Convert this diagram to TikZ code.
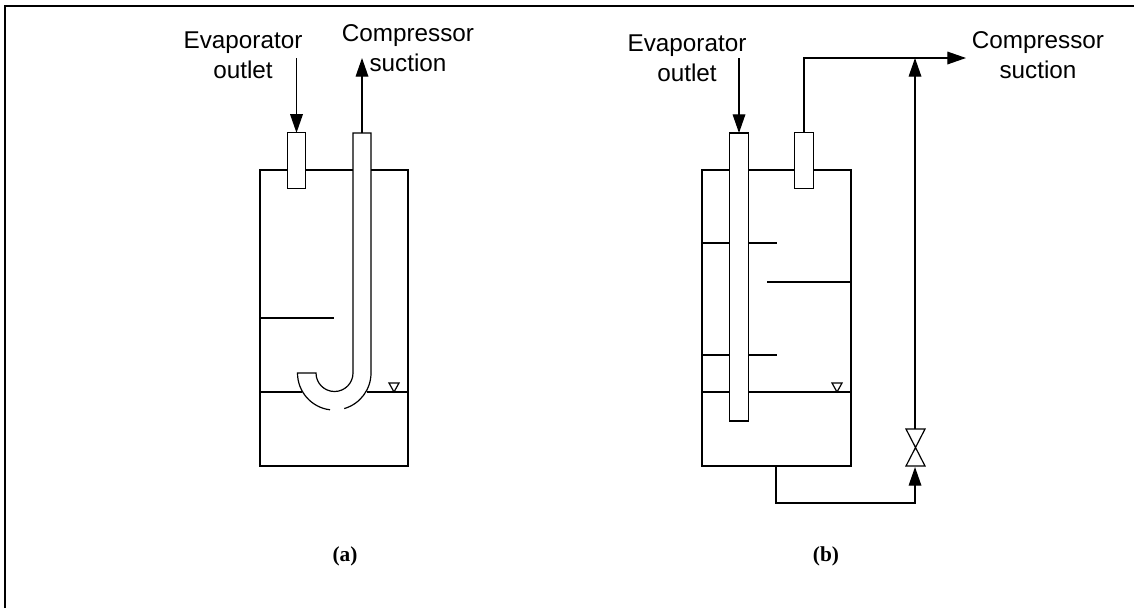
\documentclass[tikz,border=0pt]{standalone}
\usepackage{fontspec}
\setmainfont{Liberation Sans}
\newfontfamily\capfont{Liberation Serif}
\usetikzlibrary{positioning, calc, arrows.meta}
\tikzset{
    pipe/.style={line width=0.9pt},
    flow/.style={pipe, -{Triangle[length=14pt, width=9.5pt]}},
    stub/.style={draw, pipe, fill=white, minimum width=13.8pt, minimum height=41.5pt, inner sep=0pt, outer sep=0pt},
    label/.style={font=\fontsize{18.2}{22.5}\selectfont, align=center, inner sep=0pt},
    caption/.style={font=\capfont\bfseries\fontsize{16}{18}\selectfont, inner sep=0pt},
}
\begin{document}
\begin{tikzpicture}[x=0.75pt, y=-0.75pt]
    \useasboundingbox (0,0) rectangle (1134,608);

    % Frame
    \draw[line width=1.5pt] (5,608) -- (5,6) -- (1134,6);

    % Vessel (a)
    \draw[pipe] (260,170) rectangle (408,466);
    \draw[pipe] (260,392) -- (302,392);
    \draw[pipe] (367,392) -- (408,392);
    \draw[pipe] (260,318) -- (334,318);
    \draw[pipe] (389,383) -- (399,383) -- (394,392) -- cycle;

    % Stubs and J tube
    \node[stub] (inleta) at (296.5,160.5) {};
    \fill[white] (353,133) rectangle (371,373);
    \draw[pipe] (353,373) -- (353,133) -- (371,133) -- (371,373) arc (0:74:37);
    \draw[pipe] (330,409.8) arc (97:180:37) -- (316,373) arc (180:0:18.5);
    \coordinate (tubea) at (362,133);

    % Flow arrows
    \coordinate (evapa) at (296.5,58);
    \coordinate (compa) at (362,58);
    \draw[flow] (evapa) -- (inleta.north);
    \draw[flow] (tubea) -- (compa);

    % Labels
    \node[label] (evaplabela) at (243,55) {Evaporator\\outlet};
    \node[label] (complabela) at (408,48) {Compressor\\suction};
    \node[caption] (capa) at (345,556) {(a)};

    % Vessel (b)
    \draw[pipe] (702,170) rectangle (851,466);
    \draw[pipe] (702,392) -- (851,392);
    \draw[pipe] (702,243) -- (777,243);
    \draw[pipe] (702,355) -- (777,355);
    \draw[pipe] (767,282) -- (851,282);
    \draw[pipe] (832,383) -- (842,383) -- (837,392) -- cycle;

    % Stubs
    \node[stub, minimum height=216pt] (tubeb) at (739,277) {};
    \node[stub] (outletb) at (804,160.5) {};

    % Lines
    \coordinate (evapb) at (739,58);
    \coordinate (drain) at (776,466);
    \coordinate (corner) at (915,503);
    \coordinate (comp) at (966,58);
    \coordinate (tee) at (915,58);
    \coordinate (valvetop) at (915,429);
    \coordinate (valvebottom) at (915,467);
    \draw[flow] (evapb) -- (tubeb.north);
    \draw[flow] (outletb.north) |- (comp);
    \draw[flow] (drain) |- (corner) -- (valvebottom);
    \draw[pipe] (906,429) -- (925,429) -- (906,466) -- (925,466) -- cycle;
    \draw[flow] (valvetop) -- (tee);

    % Labels
    \node[label] (evaplabelb) at (687,58) {Evaporator\\outlet};
    \node[label] (complabelb) at (1038,55.5) {Compressor\\suction};
    \node[caption] (capb) at (826,556) {(b)};
\end{tikzpicture}
\end{document}
